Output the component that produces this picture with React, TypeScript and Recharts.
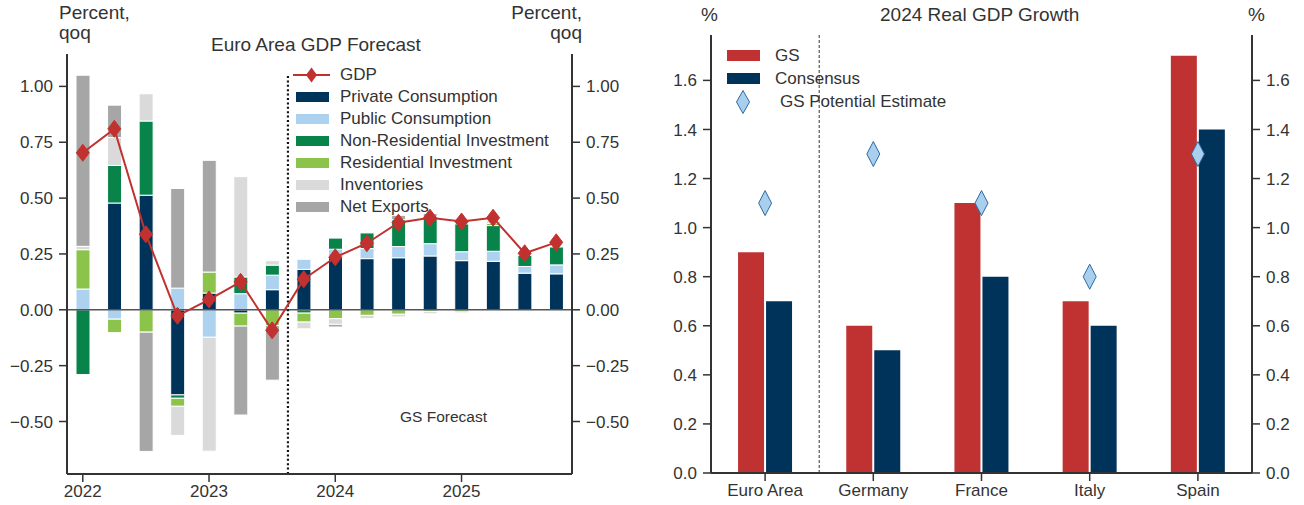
import React from "react";
import { ComposedChart, Bar, Line, XAxis, YAxis, ReferenceLine, Legend } from "recharts";

// Euro area quarterly GDP contributions (pp, qoq)
const quarters = [
  "2022Q1", "2022Q2", "2022Q3", "2022Q4",
  "2023Q1", "2023Q2", "2023Q3", "2023Q4",
  "2024Q1", "2024Q2", "2024Q3", "2024Q4",
  "2025Q1", "2025Q2", "2025Q3", "2025Q4",
];
const yearLabels = ["2022", "2023", "2024", "2025"];
const privateCons = [0, 0.478, 0.513, -0.381, 0.075, -0.015, 0.09, 0.181, 0.236, 0.229, 0.233, 0.241, 0.22, 0.217, 0.164, 0.161];
const publicCons = [0.093, -0.042, 0, 0.097, -0.123, 0.072, 0.065, 0.045, 0.035, 0.045, 0.05, 0.055, 0.04, 0.045, 0.03, 0.04];
const nonResInv = [-0.29, 0.168, 0.332, -0.015, 0, 0.075, 0.045, -0.015, 0.05, 0.07, 0.12, 0.12, 0.125, 0.115, 0.05, 0.08];
const resInv = [0.176, -0.06, -0.1, -0.036, 0.094, -0.058, -0.07, -0.04, -0.04, -0.025, -0.02, -0.008, -0.01, 0.01, 0, 0];
const inventories = [0.015, 0.125, 0.122, -0.13, -0.51, 0.449, 0.02, -0.03, -0.025, -0.015, -0.012, -0.01, -0.005, 0.012, 0, 0];
const netExports = [0.766, 0.145, -0.534, 0.446, 0.5, -0.398, -0.245, 0, -0.012, 0, 0.02, 0.015, 0.02, 0, 0, 0];
const gdp = [0.703, 0.81, 0.338, -0.027, 0.046, 0.125, -0.092, 0.137, 0.235, 0.298, 0.39, 0.412, 0.395, 0.412, 0.253, 0.302];
const leftTicks = [-0.5, -0.25, 0, 0.25, 0.5, 0.75, 1];

// 2024 real GDP growth, %
const countries = ["Euro Area", "Germany", "France", "Italy", "Spain"];
const gsGrowth = [0.9, 0.6, 1.1, 0.7, 1.7];
const consensusGrowth = [0.7, 0.5, 0.8, 0.6, 1.4];
const gsPotential = [1.1, 1.3, 1.1, 0.8, 1.3];
const rightTicks = [0, 0.2, 0.4, 0.6, 0.8, 1.0, 1.2, 1.4, 1.6];

const components = [
  { key: "privateCons", name: "Private Consumption", color: "#003359", values: privateCons },
  { key: "publicCons", name: "Public Consumption", color: "#acd2f0", values: publicCons },
  { key: "nonResInv", name: "Non-Residential Investment", color: "#08834a", values: nonResInv },
  { key: "resInv", name: "Residential Investment", color: "#8cc34b", values: resInv },
  { key: "inventories", name: "Inventories", color: "#dadada", values: inventories },
  { key: "netExports", name: "Net Exports", color: "#a6a6a6", values: netExports },
];

const euroRows = quarters.map((q, i) => {
  const row: Record<string, number | string> = { q, i, gdp: gdp[i] };
  components.forEach((c) => (row[c.key] = c.values[i]));
  return row;
});

const countryRows = countries.map((country, i) => ({
  country,
  i,
  gs: gsGrowth[i],
  consensus: consensusGrowth[i],
  potential: gsPotential[i],
}));

const FONT = "'Liberation Sans', Arial, Helvetica, sans-serif";
const INK = "#333";
const RED = "#c1312f";
const GS_RED = "#c03232";
const NAVY = "#003359";
const DIAMOND_FILL = "#a9cfee";
const DIAMOND_EDGE = "#2e6aa3";

const axisLine = { stroke: INK, strokeWidth: 2 };
const tickLine = { stroke: INK, strokeWidth: 1.5 };
const tickStyle = { fill: INK, fontSize: 17 };

const fmt2 = (v: number) => (v < 0 ? "\u2212" + Math.abs(v).toFixed(2) : v.toFixed(2));
const fmt1 = (v: number) => v.toFixed(1);

function diamondPath(cx: number, cy: number, w: number, h: number) {
  return `M${cx},${cy - h / 2}L${cx + w / 2},${cy}L${cx},${cy + h / 2}L${cx - w / 2},${cy}Z`;
}

const gdpDot = (p: any) => (
  <path key={`g-${p.index}`} d={diamondPath(p.cx, p.cy, 13, 17)} fill={RED} stroke={RED} strokeWidth={1} />
);

const potentialDot = (p: any) => (
  <path
    key={`p-${p.index}`}
    d={diamondPath(p.cx, p.cy, 13, 25)}
    fill={DIAMOND_FILL}
    stroke={DIAMOND_EDGE}
    strokeWidth={1}
  />
);

const legendText: React.CSSProperties = { fontSize: 17, color: INK, lineHeight: "22px", whiteSpace: "nowrap" };

function EuroLegend() {
  return (
    <div style={{ fontFamily: FONT }}>
      <div style={{ display: "flex", alignItems: "center", height: 22 }}>
        <svg width={50} height={22}>
          <line x1={3} x2={40} y1={11} y2={11} stroke={RED} strokeWidth={2} />
          <path d={diamondPath(21.5, 11, 11, 15)} fill={RED} />
        </svg>
        <span style={legendText}>GDP</span>
      </div>
      {components.map((c) => (
        <div key={c.key} style={{ display: "flex", alignItems: "center", height: 22 }}>
          <svg width={50} height={22}>
            <rect x={6} y={6} width={33} height={10} fill={c.color} />
          </svg>
          <span style={legendText}>{c.name}</span>
        </div>
      ))}
    </div>
  );
}

function GrowthLegend() {
  return (
    <div style={{ fontFamily: FONT }}>
      <div style={{ display: "flex", alignItems: "center", height: 23 }}>
        <svg width={48} height={23}>
          <rect x={0} y={6} width={33} height={11} fill={GS_RED} />
        </svg>
        <span style={legendText}>GS</span>
      </div>
      <div style={{ display: "flex", alignItems: "center", height: 23 }}>
        <svg width={48} height={23}>
          <rect x={0} y={6} width={33} height={11} fill={NAVY} />
        </svg>
        <span style={legendText}>Consensus</span>
      </div>
      <div style={{ display: "flex", alignItems: "center", height: 23 }}>
        <svg width={53} height={26}>
          <path d={diamondPath(16, 13, 13, 23)} fill={DIAMOND_FILL} stroke={DIAMOND_EDGE} strokeWidth={1} />
        </svg>
        <span style={legendText}>GS Potential Estimate</span>
      </div>
    </div>
  );
}

const label = (extra: React.CSSProperties): React.CSSProperties => ({
  position: "absolute",
  fontFamily: FONT,
  color: INK,
  whiteSpace: "nowrap",
  ...extra,
});

function EuroAreaChart() {
  return (
    <div style={{ position: "absolute", left: 0, top: 0, width: 640, height: 505 }}>
      <ComposedChart
        width={640}
        height={505}
        data={euroRows}
        stackOffset="sign"
        margin={{ top: 54, right: 8, bottom: 1, left: 7 }}
      >
        <XAxis
          xAxisId="idx"
          dataKey="i"
          type="number"
          domain={[-0.5, 15.5]}
          allowDataOverflow
          ticks={[0, 4, 8, 12]}
          interval={0}
          tickFormatter={(v: number) => yearLabels[v / 4]}
          height={30}
          axisLine={axisLine}
          tickLine={tickLine}
          tickSize={8}
          tickMargin={3}
          tick={tickStyle}
        />
        <XAxis xAxisId="cat" dataKey="q" hide height={0} />
        <YAxis
          yAxisId="l"
          domain={[-0.735, 1.145]}
          allowDataOverflow
          ticks={leftTicks}
          interval={0}
          tickFormatter={fmt2}
          width={60}
          axisLine={axisLine}
          tickLine={tickLine}
          tickSize={8}
          tickMargin={6}
          tick={tickStyle}
        />
        <YAxis
          yAxisId="r"
          orientation="right"
          domain={[-0.735, 1.145]}
          allowDataOverflow
          ticks={leftTicks}
          interval={0}
          tickFormatter={fmt2}
          width={60}
          axisLine={axisLine}
          tickLine={tickLine}
          tickSize={8}
          tickMargin={6}
          tick={tickStyle}
        />
        {components.map((c) => (
          <Bar
            key={c.key}
            xAxisId="cat"
            yAxisId="l"
            dataKey={c.key}
            name={c.name}
            stackId="a"
            fill={c.color}
            stroke="#ffffff"
            strokeWidth={1}
            barSize={14}
            isAnimationActive={false}
          />
        ))}
        <ReferenceLine xAxisId="idx" yAxisId="l" y={0} stroke="#555" strokeWidth={1.5} />
        <ReferenceLine
          xAxisId="idx"
          yAxisId="l"
          segment={[
            { x: 6.5, y: -0.735 },
            { x: 6.5, y: 1.055 },
          ]}
          stroke="#111"
          strokeWidth={2.2}
          strokeDasharray="2 2.4"
        />
        <Line
          xAxisId="cat"
          yAxisId="l"
          dataKey="gdp"
          name="GDP"
          stroke={RED}
          strokeWidth={2}
          dot={gdpDot}
          activeDot={false}
          isAnimationActive={false}
        />
        <Legend
          layout="vertical"
          align="center"
          verticalAlign="middle"
          wrapperStyle={{ left: 290, top: 64, width: 300, height: 154 }}
          content={() => <EuroLegend />}
        />
      </ComposedChart>
      <div style={label({ left: 59, top: 3, fontSize: 19, lineHeight: "20px" })}>
        Percent,
        <br />
        qoq
      </div>
      <div style={label({ right: 58, top: 3, fontSize: 19, lineHeight: "20px", textAlign: "right" })}>
        Percent,
        <br />
        qoq
      </div>
      <div style={label({ left: 211, top: 34, fontSize: 19 })}>Euro Area GDP Forecast</div>
      <div style={label({ left: 400, top: 408, fontSize: 15.5 })}>GS Forecast</div>
    </div>
  );
}

function GrowthChart() {
  return (
    <div style={{ position: "absolute", left: 640, top: 0, width: 664, height: 505 }}>
      <ComposedChart
        width={664}
        height={505}
        data={countryRows}
        barCategoryGap="25%"
        barGap={2}
        margin={{ top: 35, right: 7, bottom: 2, left: 11 }}
      >
        <XAxis
          xAxisId="cat"
          dataKey="country"
          interval={0}
          height={30}
          axisLine={axisLine}
          tickLine={tickLine}
          tickSize={8}
          tickMargin={3}
          tick={tickStyle}
        />
        <XAxis xAxisId="idx" dataKey="i" type="number" domain={[-0.5, 4.5]} allowDataOverflow hide height={0} />
        <YAxis
          yAxisId="l"
          domain={[0, 1.785]}
          allowDataOverflow
          ticks={rightTicks}
          interval={0}
          tickFormatter={fmt1}
          width={60}
          axisLine={axisLine}
          tickLine={tickLine}
          tickSize={8}
          tickMargin={6}
          tick={tickStyle}
        />
        <YAxis
          yAxisId="r"
          orientation="right"
          domain={[0, 1.785]}
          allowDataOverflow
          ticks={rightTicks}
          interval={0}
          tickFormatter={fmt1}
          width={45}
          axisLine={axisLine}
          tickLine={tickLine}
          tickSize={8}
          tickMargin={6}
          tick={tickStyle}
        />
        <ReferenceLine xAxisId="idx" yAxisId="l" x={0.5} stroke="#333" strokeWidth={1} strokeDasharray="3 2" />
        <Bar xAxisId="cat" yAxisId="l" dataKey="gs" name="GS" fill={GS_RED} isAnimationActive={false} />
        <Bar xAxisId="cat" yAxisId="l" dataKey="consensus" name="Consensus" fill={NAVY} isAnimationActive={false} />
        <Line
          xAxisId="cat"
          yAxisId="l"
          dataKey="potential"
          name="GS Potential Estimate"
          stroke="none"
          dot={potentialDot}
          activeDot={false}
          isAnimationActive={false}
        />
        <Legend
          layout="vertical"
          align="center"
          verticalAlign="middle"
          wrapperStyle={{ left: 87, top: 44, width: 260, height: 72 }}
          content={() => <GrowthLegend />}
        />
      </ComposedChart>
      <div style={label({ left: 61, top: 4, fontSize: 19 })}>%</div>
      <div style={label({ left: 608, top: 4, fontSize: 19 })}>%</div>
      <div style={label({ left: 240, top: 4, fontSize: 19 })}>2024 Real GDP Growth</div>
    </div>
  );
}

export default function App() {
  return (
    <div style={{ position: "absolute", left: 0, top: 0, width: 1304, height: 505, background: "#fff", fontFamily: FONT }}>
      <EuroAreaChart />
      <GrowthChart />
    </div>
  );
}
